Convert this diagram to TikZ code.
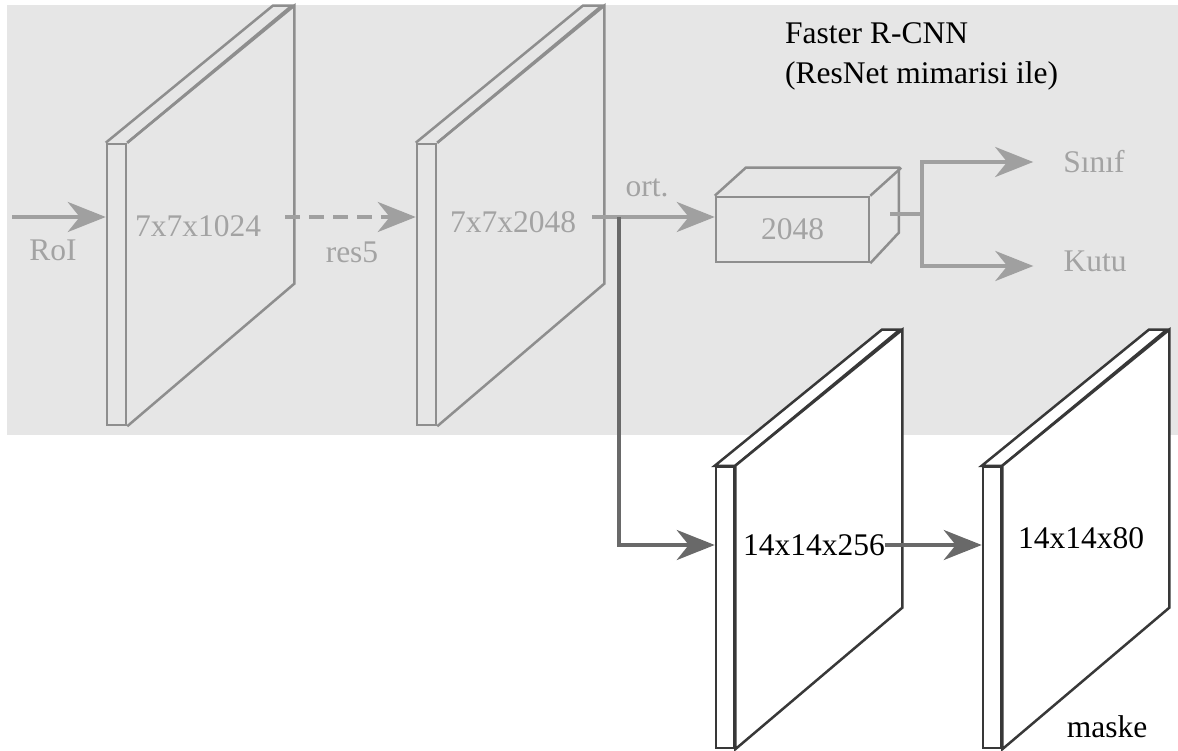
\documentclass[tikz,border=0pt]{standalone}
\usepackage{fontspec}
\setmainfont{Liberation Serif}
\usepackage{tikz}
\usetikzlibrary{arrows.meta}
\usetikzlibrary{calc}
\usepackage{xcolor}
\definecolor{bggray}{HTML}{E6E6E6}
\definecolor{upgray}{HTML}{8E8E8E}
\definecolor{uparr}{HTML}{A0A0A0}
\definecolor{uptext}{HTML}{A3A3A3}
\definecolor{lowgray}{HTML}{383838}
\definecolor{arrgray}{HTML}{696969}

\begin{document}
\begin{tikzpicture}[x=1pt,y=-1pt,
	upline/.style={draw=upgray,line width=2.5pt},
	lowline/.style={draw=lowgray,line width=2.5pt,fill=white},
	uparrow/.style={draw=uparr,line width=4pt,-{Stealth[length=38pt,width=30pt,inset=12pt]}},
	lowarrow/.style={draw=arrgray,line width=4pt,-{Stealth[length=38pt,width=30pt,inset=12pt]}},
	uplabel/.style={text=uptext,inner sep=0pt,font=\fontsize{31.5}{40}\selectfont},
	lowlabel/.style={text=black,inner sep=0pt,font=\fontsize{31.5}{40}\selectfont},
	upstrip/.style={upline,minimum width=19pt,minimum height=281pt,inner sep=0pt},
	lowstrip/.style={lowline,minimum width=18pt,minimum height=281pt,inner sep=0pt}]
			
			\useasboundingbox (0,0) rectangle (1178,751);
			
			% gray region
			\fill[bggray] (7,5) rectangle (1178,435);
			
			% plate 7x7x1024
			\node[upstrip] (p1) at (116.5,284.5) {};
			\draw[upline] (p1.north west) -- ++(167,-137) -- ++(19,0) -- (p1.north east);
			\draw[upline] (p1.north east) -- ++(167,-137) -- ++(0,278) -- (p1.south east);
			
			% plate 7x7x2048
			\node[upstrip] (p2) at (426.5,284.5) {};
			\draw[upline] (p2.north west) -- ++(167,-137) -- ++(19,0) -- (p2.north east);
			\draw[upline] (p2.north east) -- ++(167,-137) -- ++(0,278) -- (p2.south east);
			
			% box 2048
			\node[upline,text=uptext,font=\fontsize{31.5}{40}\selectfont,minimum width=153pt,minimum height=65pt,inner sep=0pt] (box) at (792.5,229.5) {2048};
			\draw[upline] (box.north west) -- ++(31,-28) -- ++(153,0) -- ++(0,65) -- (box.south east);
			\draw[upline] (box.north east) -- ++(31,-28);
			
			% labels
			\node[uplabel] (roi) at (53,250) {RoI};
			\node[uplabel] (t1024) at (198,226) {7x7x1024};
			\node[uplabel] (res) at (352,252) {res5};
			\node[uplabel] (t2048) at (513,222) {7x7x2048};
			\node[uplabel] (ort) at (647,188) {ort.};
			\node[uplabel] (sinif) at (1094,162) {Sınıf};
			\node[uplabel] (kutu) at (1095,261) {Kutu};
			\node[anchor=north west,align=left,inner sep=0pt,font=\fontsize{31.5}{40}\selectfont] (title) at (785,22) {Faster R-CNN\\(ResNet mimarisi ile)};
			
			% arrows in the gray region
			\coordinate (in) at (12,217);
			\coordinate (d1) at (285,217);
			\coordinate (o1) at (592,217);
			\coordinate (bx) at (890,214);
			\coordinate (fork) at (922,214);
			\draw[uparrow] (in) -- (in -| p1.west);
			\draw[uparrow,dash pattern=on 15pt off 9pt] (d1) -- (d1 -| p2.west);
			\draw[uparrow] (o1) -- (o1 -| box.west);
			\draw[uparrow,-] (bx) -- (fork);
			\draw[uparrow] (fork) |- ([xshift=-30pt]sinif.west);
			\draw[uparrow] (fork) |- ([xshift=-30pt,yshift=-5pt]kutu.west);
			
			% plate 14x14x256
			\node[lowstrip] (p3) at (725,607.5) {};
			\draw[lowline] (p3.north west) -- ++(167,-136) -- ++(18,0) -- (p3.north east) -- cycle;
			\draw[lowline] (p3.north east) -- ++(167,-136) -- ++(0,278) -- (p3.south east) -- cycle;
			
			% plate 14x14x80
			\node[lowstrip] (p4) at (992,607.5) {};
			\draw[lowline] (p4.north west) -- ++(167,-136) -- ++(18,0) -- (p4.north east) -- cycle;
			\draw[lowline] (p4.north east) -- ++(167,-136) -- ++(0,278) -- (p4.south east) -- cycle;
			
			% mask labels
			\node[lowlabel] (t256) at (814,545) {14x14x256};
			\node[lowlabel] (t80) at (1081,538) {14x14x80};
			\node[lowlabel] (mask) at (1107,727) {maske};
			
			% mask branch
			\coordinate (split) at (619,217);
			\draw[lowarrow] (split) |- (p3.west |- t256);
			\draw[lowarrow] (t256.east) -- (p4.west |- t256);
			
		\end{tikzpicture}
\end{document}
